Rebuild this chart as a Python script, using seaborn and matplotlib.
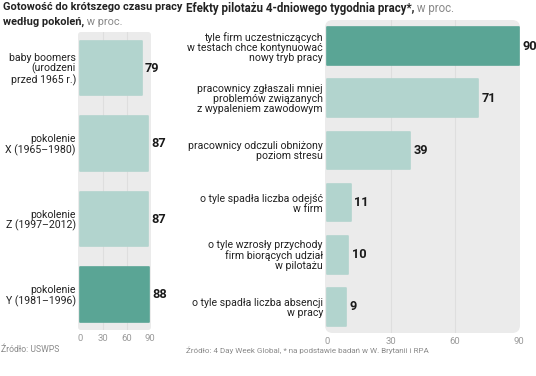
import matplotlib.pyplot as plt
import seaborn as sns
from matplotlib.patches import FancyBboxPatch

# dane
pokolenia = [
    "baby boomers\n(urodzeni\nprzed 1965 r.)",
    "pokolenie\nX (1965–1980)",
    "pokolenie\nZ (1997–2012)",
    "pokolenie\nY (1981–1996)",
]
gotowosc = [79, 87, 87, 88]

efekty = [
    "tyle firm uczestniczących\nw testach chce kontynuować\nnowy tryb pracy",
    "pracownicy zgłaszali mniej\nproblemów związanych\nz wypaleniem zawodowym",
    "pracownicy odczuli obniżony\npoziom stresu",
    "o tyle spadła liczba odejść\nw firm",
    "o tyle wzrosły przychody\nfirm biorących udział\nw pilotażu",
    "o tyle spadła liczba absencji\nw pracy",
]
wartosci = [90, 71, 39, 11, 10, 9]

skala = [0, 30, 60, 90]

CIEMNY = "#5aa595"
JASNY = "#b2d4ce"
TLO = "#ebebeb"
SIATKA = "#dedede"

sns.set_style("white")
plt.rcParams["font.family"] = ["Roboto", "DejaVu Sans"]

fig = plt.figure(figsize=(5.36, 3.76), dpi=100)
W, H = 536, 376


def panel(rect_px, kategorie, wart, kolory, xlim, ylim):
    x0, y0, x1, y1 = rect_px
    ax = fig.add_axes([x0 / W, 1 - y1 / H, (x1 - x0) / W, (y1 - y0) / H])
    ax.set_facecolor("none")
    aspect = (x1 - x0) / (y1 - y0)
    tlo = FancyBboxPatch((0, 0), 1, 1, boxstyle="round,pad=0,rounding_size=0.04",
                         mutation_aspect=aspect, transform=ax.transAxes,
                         facecolor=TLO, edgecolor="none", zorder=0, clip_on=False)
    ax.add_patch(tlo)
    for v in [30, 60]:
        ax.axvline(v, color=SIATKA, lw=0.8, zorder=0.5)

    sns.barplot(x=wart, y=kategorie, hue=kategorie, palette=kolory, saturation=1,
                legend=False, width=0.72, ax=ax, zorder=2)
    for p in ax.patches:
        if p is tlo:
            continue
        p.set_edgecolor(p.get_facecolor())
        p.set_linewidth(1.2)
        p.set_joinstyle("round")

    for i, v in enumerate(wart):
        ax.annotate(str(v), xy=(v, i), xytext=(2.5, 0), textcoords="offset points",
                    va="center", ha="left", fontsize=9.2, fontweight="bold",
                    color="#1a1a1a", annotation_clip=False)

    ax.set_xlim(*xlim)
    ax.set_ylim(*ylim)
    ax.set_xticks(skala)
    ax.set_xticklabels([str(s) for s in skala])
    ax.tick_params(axis="x", length=0, pad=3, labelsize=6.8, labelcolor="#9a9a9a")
    ax.tick_params(axis="y", length=0, pad=1.5, labelsize=7.6, labelcolor="#222222")
    for t in ax.get_yticklabels():
        t.set_multialignment("right")
        t.set_linespacing(1.0)
    ax.set_xlabel("")
    ax.set_ylabel("")
    sns.despine(ax=ax, left=True, bottom=True)
    return ax


kol_lewy = [JASNY, JASNY, JASNY, CIEMNY]
panel((78, 32, 151, 330), pokolenia, gotowosc, kol_lewy, (-2.5, 91), (3.47, -0.48))

kol_prawy = [CIEMNY] + [JASNY] * 5
panel((325, 20, 520, 333), efekty, wartosci, kol_prawy, (-1, 90.5), (5.5, -0.5))

# tytuly
t1 = fig.text(3 / W, 1 - 2 / H, "Gotowość do krótszego czasu pracy", ha="left", va="top",
              fontsize=7.9, fontweight="bold", color="#222222")
t2 = fig.text(3 / W, 1 - 17 / H, "według pokoleń,", ha="left", va="top",
              fontsize=7.9, fontweight="bold", color="#222222")
fig.add_artist(plt.Annotation(" w proc.", xy=(1, 0), xycoords=t2, va="bottom",
                              fontsize=7.9, color="#888888"))

t3 = fig.text(186 / W, 1 - 2 / H, "Efekty pilotażu 4-dniowego tygodnia pracy*,", ha="left",
              va="top", fontsize=8.3, fontweight="bold", color="#222222")
fig.add_artist(plt.Annotation(" w proc.", xy=(1, 0), xycoords=t3, va="bottom",
                              fontsize=8.3, color="#888888"))

# zrodla
fig.text(1 / W, 1 - 350 / H, "Źródło: USWPS", ha="left", va="center",
         fontsize=6.2, color="#8a8a8a")
fig.text(186 / W, 1 - 350 / H,
         "Źródło: 4 Day Week Global, * na podstawie badań w W. Brytanii i RPA",
         ha="left", va="center", fontsize=5.8, color="#8a8a8a")

fig.savefig("out.png", dpi=100, facecolor="white")
